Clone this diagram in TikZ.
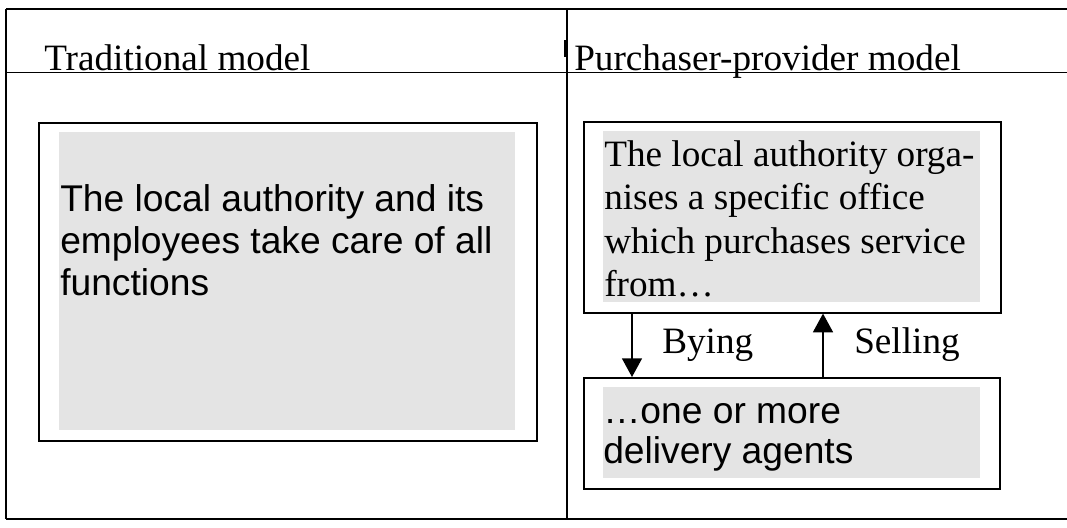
\documentclass[tikz,border=0pt]{standalone}
\usepackage{fontspec}
\setmainfont{Liberation Serif}
\newfontfamily\sansarial{Liberation Sans}
\usetikzlibrary{arrows.meta}
\definecolor{panelgrey}{HTML}{E4E4E4}
\begin{document}
\begin{tikzpicture}[x=0.75pt,y=-0.75pt,
  rule/.style={line width=1.2pt, black},
  frame/.style={draw, line width=1.2pt, rectangle, inner sep=0pt, anchor=north west},
  panel/.style={fill=panelgrey},
  serifline/.style={font=\fontsize{27.9}{30}\selectfont, inner sep=0pt, anchor=base west},
  sansline/.style={font=\sansarial\fontsize{27.9}{30}\selectfont, inner sep=0pt, anchor=base west},
  flow/.style={line width=1pt, -{Triangle[width=15pt,length=14pt]}}]
\useasboundingbox (0,0) rectangle (1067,528);

% table rules
\draw[rule] (6,9) -- (1067,9);
\draw[rule] (6,72.5) -- (1067,72.5);
\draw[rule] (6,519) -- (1067,519);
\draw[rule] (6,9) -- (6,519);
\draw[rule] (567,9) -- (567,519);
\draw[line width=2.2pt] (565.8,40) -- (565.8,57);

% column headings
\node[serifline] (hdrA) at (44,70.5) {Traditional model};
\node[serifline] (hdrB) at (574,70.5) {Purchaser-provider model};

% grey text areas
\path[panel] (59,132) rectangle (515,430);
\path[panel] (603,131) rectangle (980,302);
\path[panel] (603,387) rectangle (980,478);

% boxes
\node[frame, minimum width=373.5pt, minimum height=238.5pt] (lbox) at (38,122) {};
\node[frame, minimum width=312.75pt, minimum height=143.25pt] (pbox) at (583,121) {};
\node[frame, minimum width=312pt, minimum height=83.25pt] (dbox) at (583,377) {};

% traditional model text
\node[sansline] (l1) at (60,211) {The local authority and its};
\node[sansline] (l2) at (60,253) {employees take care of all};
\node[sansline] (l3) at (60,295) {functions};

% purchaser text
\node[serifline] (p1) at (604,166) {The local authority orga-};
\node[serifline] (p2) at (604,209.5) {nises a specific office};
\node[serifline] (p3) at (604,253) {which purchases service};
\node[serifline] (p4) at (604,296.5) {from…};

% provider text
\node[sansline] (d1) at (603,423) {…one or more};
\node[sansline] (d2) at (603,463) {delivery agents};

% buying and selling flows
\coordinate (dn) at (632,0);
\coordinate (up) at (823,0);
\draw[flow] (pbox.south -| dn) -- (dbox.north -| dn);
\draw[flow] (dbox.north -| up) -- (pbox.south -| up);
\node[serifline] (buy) at (662,353) {Bying};
\node[serifline] (sell) at (854,353) {Selling};
\end{tikzpicture}
\end{document}
